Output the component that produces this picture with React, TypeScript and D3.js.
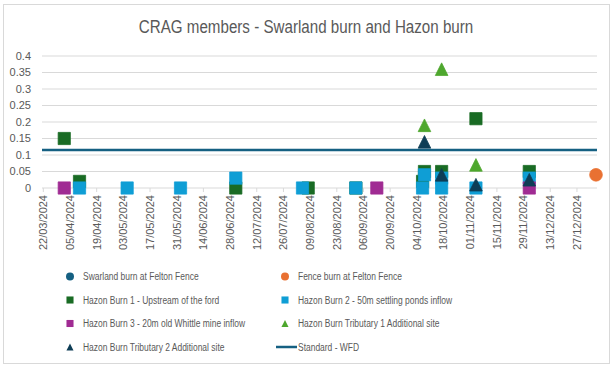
import { useMemo } from "react"
import * as d3 from "d3"

type Pt = { date: string; value: number }

// series values (dd/mm/yyyy)
const swarlandFelton: Pt[] = []
const fenceFelton: Pt[] = [{ date: "06/01/2025", value: 0.04 }]
const hazon1: Pt[] = [
  { date: "02/04/2024", value: 0.15 },
  { date: "10/04/2024", value: 0.02 },
  { date: "01/07/2024", value: 0 },
  { date: "08/08/2024", value: 0 },
  { date: "02/09/2024", value: 0 },
  { date: "07/10/2024", value: 0.02 },
  { date: "08/10/2024", value: 0.05 },
  { date: "17/10/2024", value: 0.05 },
  { date: "04/11/2024", value: 0.21 },
  { date: "02/12/2024", value: 0.05 },
]
const hazon2: Pt[] = [
  { date: "10/04/2024", value: 0 },
  { date: "05/05/2024", value: 0 },
  { date: "02/06/2024", value: 0 },
  { date: "01/07/2024", value: 0.03 },
  { date: "05/08/2024", value: 0 },
  { date: "02/09/2024", value: 0 },
  { date: "07/10/2024", value: 0 },
  { date: "08/10/2024", value: 0.04 },
  { date: "17/10/2024", value: 0.03 },
  { date: "17/10/2024", value: 0 },
  { date: "04/11/2024", value: 0 },
  { date: "02/12/2024", value: 0.03 },
]
const hazon3: Pt[] = [
  { date: "02/04/2024", value: 0 },
  { date: "13/09/2024", value: 0 },
  { date: "02/12/2024", value: 0 },
]
const tributary1: Pt[] = [
  { date: "08/10/2024", value: 0.19 },
  { date: "17/10/2024", value: 0.36 },
  { date: "04/11/2024", value: 0.07 },
]
const tributary2: Pt[] = [
  { date: "08/10/2024", value: 0.14 },
  { date: "17/10/2024", value: 0.04 },
  { date: "04/11/2024", value: 0.01 },
  { date: "02/12/2024", value: 0.025 },
]
const standardWFD = 0.115

const yTicks = [0, 0.05, 0.1, 0.15, 0.2, 0.25, 0.3, 0.35, 0.4]
const axisStart = "22/03/2024"
const axisEnd = "06/01/2025"
const tickStepDays = 14

const parse = d3.timeParse("%d/%m/%Y")
const fmt = d3.timeFormat("%d/%m/%Y")

// triangle centred on its bounding box, like Excel's marker
const triangle = {
  draw(ctx: any, size: number) {
    const s = Math.sqrt(size)
    ctx.moveTo(0, -s / 2)
    ctx.lineTo(s / 2, s / 2)
    ctx.lineTo(-s / 2, s / 2)
    ctx.closePath()
  },
}

const series = [
  { name: "Swarland burn at Felton Fence", data: swarlandFelton, color: "#156082", shape: d3.symbolCircle, size: 127 },
  { name: "Fence burn at Felton Fence", data: fenceFelton, color: "#E97132", shape: d3.symbolCircle, size: 127 },
  { name: "Hazon Burn 1 - Upstream of the ford", data: hazon1, color: "#196B24", shape: d3.symbolSquare, size: 150 },
  { name: "Hazon Burn 2 - 50m settling ponds inflow", data: hazon2, color: "#0F9ED5", shape: d3.symbolSquare, size: 150 },
  { name: "Hazon Burn 3 - 20m old Whittle mine inflow", data: hazon3, color: "#A02B93", shape: d3.symbolSquare, size: 150 },
  { name: "Hazon Burn Tributary 1 Additional site", data: tributary1, color: "#4EA72E", shape: triangle, size: 160 },
  { name: "Hazon Burn Tributary 2 Additional site", data: tributary2, color: "#0E3D56", shape: triangle, size: 160 },
]

const W = 614
const H = 367
const plot = { left: 42, right: 597, top: 56, bottom: 188 }
const txt = "#595959"
const grid = "#d9d9d9"
const font = "'Liberation Sans', Arial, sans-serif"

export default function App() {
  const x = useMemo(
    () => d3.scaleTime().domain([parse(axisStart)!, parse(axisEnd)!]).range([plot.left + 1.3, plot.right - 1]),
    []
  )
  const y = useMemo(() => d3.scaleLinear().domain([0, 0.4]).range([plot.bottom, plot.top]), [])
  const xTicks = d3
    .range(0, 300, tickStepDays)
    .map(d => d3.timeDay.offset(parse(axisStart)!, d))
    .filter(d => d <= parse(axisEnd)!)

  const legendItems = [
    ...series.map(s => ({ ...s, line: false })),
    { name: "Standard - WFD", data: [], color: "#156082", shape: null, size: 0, line: true },
  ]

  return (
    <svg width={W} height={H} style={{ position: "absolute", left: 0, top: 0, background: "#fff" }}>
      <rect x={3.5} y={4.5} width={606} height={359} fill="#fff" stroke={grid} />
      {/* narrow title face, squeezed horizontally */}
      <text transform="translate(306,33) scale(0.82,1)" textAnchor="middle" fontFamily={font} fontSize={18.5} fill={txt}>
        CRAG members - Swarland burn and Hazon burn
      </text>

      {/* gridlines + y labels */}
      {yTicks.map(t => (
        <g key={t}>
          <line x1={plot.left} x2={plot.right} y1={y(t)} y2={y(t)} stroke={grid} strokeWidth={1} />
          <text x={31} y={y(t)} dy="0.35em" textAnchor="end" fontFamily={font} fontSize={11} fill={txt}>
            {t}
          </text>
        </g>
      ))}

      {/* x ticks */}
      {xTicks.map(t => (
        <g key={+t} transform={`translate(${x(t)},0)`}>
          <line y1={plot.bottom} y2={plot.bottom + 4} stroke={grid} />
          <text transform={`translate(0,${plot.bottom + 7}) rotate(-90)`} dy="0.35em" textAnchor="end" fontFamily={font} fontSize={11} fill={txt}>
            {fmt(t)}
          </text>
        </g>
      ))}

      {/* markers */}
      {series.map(s =>
        s.data.map((p, i) => (
          <path
            key={s.name + i}
            transform={`translate(${x(parse(p.date)!)},${y(p.value)})`}
            d={d3.symbol(s.shape as any, s.size)()!}
            fill={s.color}
            stroke={s.color}
            strokeWidth={0.75}
          />
        ))
      )}

      {/* WFD standard */}
      <line x1={plot.left} x2={plot.right} y1={y(standardWFD)} y2={y(standardWFD)} stroke="#156082" strokeWidth={2.5} />

      {/* legend */}
      {legendItems.map((s, i) => {
        const col = i % 2
        const row = Math.floor(i / 2)
        const mx = col === 0 ? 70 : 285
        const my = 276.5 + row * 23.5
        return (
          <g key={s.name}>
            {s.line ? (
              <line x1={mx - 9} x2={mx + 12} y1={my} y2={my} stroke={s.color} strokeWidth={2.5} />
            ) : (
              <path transform={`translate(${mx},${my})`} d={d3.symbol(s.shape as any, 50)()!} fill={s.color} />
            )}
            <text transform={`translate(${mx + 13},${my}) scale(0.77,1)`} dy="0.35em" fontFamily={font} fontSize={11} fill={txt}>
              {s.name}
            </text>
          </g>
        )
      })}
    </svg>
  )
}
